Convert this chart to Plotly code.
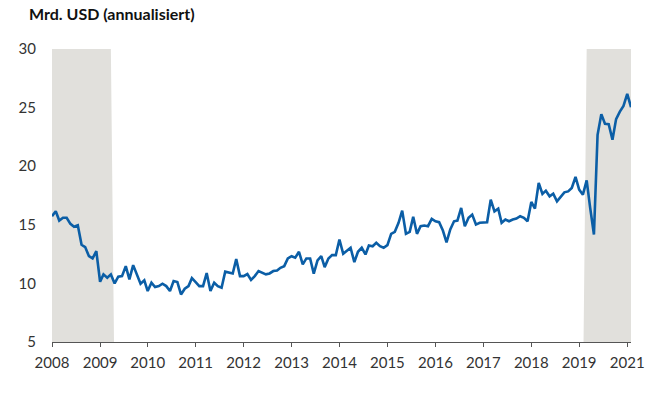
import pandas as pd
import plotly.graph_objects as go

# Monthly series, Jan 2008 - Feb 2021 (Mrd. USD, annualisiert)
start_month = "2008-01-01"
values = [
    15.73, 16.15, 15.36, 15.60, 15.60, 15.08, 14.83, 14.96, 13.30, 13.10, 12.32, 12.13,
    12.75, 10.14, 10.77, 10.49, 10.77, 10.00, 10.57, 10.62, 11.47, 10.34, 11.56, 10.77,
    9.97, 10.26, 9.35, 10.06, 9.69, 9.77, 9.97, 9.77, 9.35, 10.20, 10.11, 9.06,
    9.55, 9.77, 10.45, 10.11, 9.77, 9.77, 10.88, 9.35, 10.06, 9.77, 9.63, 11.00,
    10.91, 10.85, 12.07, 10.62, 10.62, 10.80, 10.30, 10.62, 11.05, 10.91, 10.77, 10.85,
    11.05, 11.10, 11.33, 11.47, 12.13, 12.32, 12.19, 12.70, 11.62, 12.13, 12.13, 10.83,
    11.96, 12.32, 11.39, 12.13, 12.41, 12.41, 13.74, 12.53, 12.75, 13.04, 11.81, 12.70,
    13.04, 12.47, 13.23, 13.17, 13.46, 13.17, 13.04, 13.26, 14.23, 14.40, 15.17, 16.21,
    14.23, 14.40, 15.68, 14.23, 14.88, 14.94, 14.88, 15.51, 15.30, 15.22, 14.51, 13.50,
    14.60, 15.30, 15.36, 16.44, 14.88, 15.60, 15.87, 15.02, 15.17, 15.22, 15.22, 17.15,
    16.15, 16.38, 15.17, 15.45, 15.30, 15.45, 15.53, 15.73, 15.60, 15.30, 16.95, 16.38,
    18.57, 17.63, 17.91, 17.43, 17.66, 17.00, 17.43, 17.77, 17.85, 18.14, 19.08, 18.00,
    17.57, 18.79, 16.44, 14.17, 22.68, 24.44, 23.62, 23.59, 22.26, 24.02, 24.66, 25.15,
    26.17, 25.04,
]

# Recession periods (shaded), first and last month
recessions = [("2008-01-01", "2009-05-01"), ("2020-02-01", "2021-02-01")]
shade_top = 30

# Axis tick labels: every 13th month, labelled with its year
tick_step = 13
y_ticks = [5, 10, 15, 20, 25, 30]
y_title = "Mrd. USD (annualisiert)"

dates = pd.date_range(start_month, periods=len(values), freq="MS")
in_rec = [any(pd.Timestamp(a) <= d <= pd.Timestamp(b) for a, b in recessions) for d in dates]
shade = [shade_top if r else 0 for r in in_rec]

tickvals = list(dates[::tick_step])
ticktext = [str(d.year) for d in tickvals]

fig = go.Figure()
fig.add_trace(go.Scatter(
    x=dates, y=shade, mode="lines", line=dict(width=0, color="#E1E0DC"),
    fill="tozeroy", fillcolor="#E1E0DC", hoverinfo="skip", showlegend=False,
))
fig.add_trace(go.Scatter(
    x=dates, y=values, mode="lines",
    line=dict(color="#0B5EA6", width=2.6), showlegend=False,
))

font_family = "Lato, 'Open Sans', sans-serif"
fig.update_layout(
    width=672, height=397,
    margin=dict(l=52, r=41, t=49, b=55),
    paper_bgcolor="white", plot_bgcolor="white",
    font=dict(family=font_family, size=15, color="#333333"),
    title=dict(
        text="<b>" + y_title + "</b>",
        x=29 / 672, xanchor="left", xref="container",
        y=1 - 14 / 397, yanchor="middle", yref="container",
        font=dict(family=font_family, size=16, color="#111111"),
    ),
)
fig.update_xaxes(
    range=[dates[0], dates[-1]],
    tickvals=tickvals, ticktext=ticktext,
    showgrid=False, zeroline=False,
    showline=True, linecolor="#555555", linewidth=1,
    ticks="outside", ticklen=4, tickcolor="#555555", tickwidth=1,
    ticklabelstandoff=3,
    tickfont=dict(size=15, color="#333333"),
)
fig.update_yaxes(
    range=[5, 30], tickvals=y_ticks,
    showgrid=False, zeroline=False, showline=False,
    ticks="", ticklabelstandoff=15,
    tickfont=dict(size=15, color="#333333"),
)

fig.write_html(
    "out.html",
    config={"displayModeBar": False},
    post_script="document.body.style.margin='0';document.body.style.padding='0';",
)
